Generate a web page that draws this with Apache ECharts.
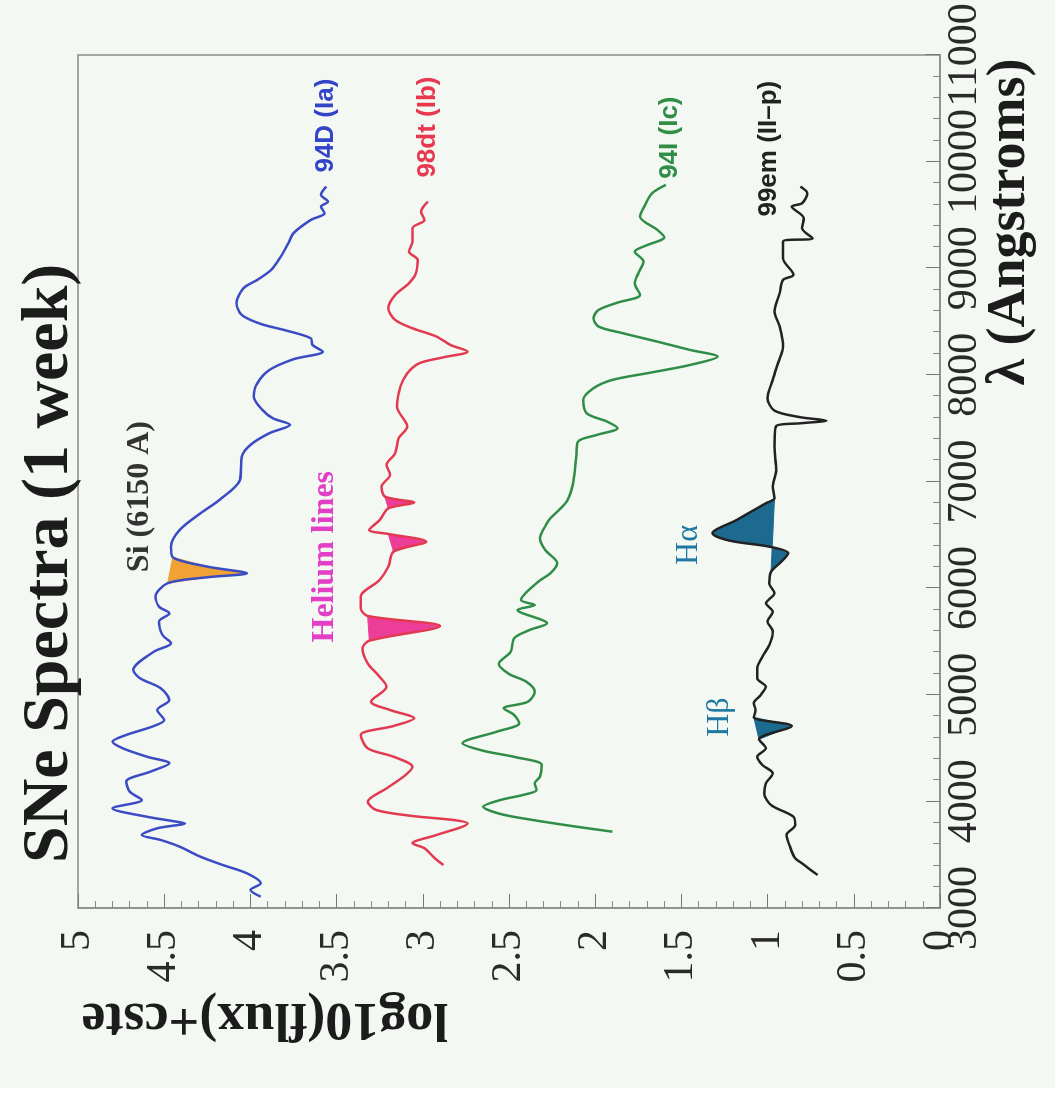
<!DOCTYPE html>
<html>
<head>
<meta charset="utf-8">
<title>SNe Spectra (1 week)</title>
<script src="https://cdn.jsdelivr.net/npm/echarts@6/dist/echarts.min.js"></script>
<style>
  html, body { margin: 0; padding: 0; background: #ffffff; }
  /* chart is drawn upright, then turned a quarter turn like the scan */
  #wrap {
    position: absolute; left: 0; top: 0;
    width: 1100px; height: 1055px;
    transform-origin: 0 0;
    transform: translateY(1100px) rotate(-90deg);
    background: linear-gradient(to right, #ffffff 12px, #f4f8f3 12px);
  }
  #chart { width: 1100px; height: 1055px; }
</style>
</head>
<body>
<div id="wrap"><div id="chart"></div></div>
<script>
// wavelength axis (Angstroms) and flux axis
var waveAxis = [3000, 11000, 1000];
var fluxAxis = [0, 5, 0.5];

// 94D (Ia)
var waveIa = [3106,3169,3232,3325,3403,3481,3575,3638,3685,3748,3794,3810,3856,3935,4013,4091,4185,4279,4357,4419,
  4498,4560,4623,4701,4763,4857,4951,5061,5155,5232,5404,5483,5561,5686,5764,5826,5920,6046,6102,6139,
  6202,6290,6389,6546,6702,6827,7015,7233,7343,7453,7531,7593,7671,7796,7922,8046,8147,8218,8281,8344,
  8415,8478,8562,8672,8813,8891,8984,9094,9235,9329,9453,9516,9578,9625,9688,9766];
var fluxIa = [3.94,4.00,3.94,4.02,4.16,4.29,4.41,4.52,4.63,4.54,4.38,4.43,4.60,4.80,4.63,4.70,4.72,4.58,4.47,4.60,
  4.74,4.80,4.72,4.57,4.50,4.54,4.47,4.52,4.64,4.68,4.56,4.46,4.51,4.53,4.47,4.53,4.55,4.48,4.25,4.02,
  4.25,4.45,4.46,4.41,4.29,4.18,4.06,4.05,4.00,3.89,3.77,3.87,3.93,3.98,3.96,3.89,3.75,3.58,3.64,3.65,
  3.79,3.94,4.05,4.08,4.04,3.96,3.88,3.83,3.78,3.75,3.65,3.57,3.59,3.55,3.59,3.56];

// 98dt (Ib)
var waveIb = [3403,3466,3560,3607,3685,3794,3825,3863,3919,3997,4122,4247,4325,4419,4498,4623,4707,4779,4857,4935,
  5076,5186,5295,5436,5507,5645,5739,5811,5920,6077,6202,6342,6436,6508,6546,6639,6749,6802,6858,6952,
  7062,7155,7265,7406,7515,7702,7890,8015,8109,8165,8218,8281,8359,8437,8515,8625,8750,8860,8953,9078,
  9156,9250,9376,9453,9531,9625];
var fluxIb = [2.88,2.93,2.99,3.06,2.92,2.74,2.82,3.06,3.27,3.32,3.21,3.10,3.06,3.17,3.32,3.36,3.17,3.05,3.19,3.30,
  3.21,3.26,3.32,3.35,3.31,2.90,3.32,3.36,3.36,3.25,3.20,3.17,2.98,3.20,3.31,3.25,3.20,3.05,3.22,3.24,
  3.19,3.21,3.16,3.14,3.09,3.15,3.13,3.09,3.02,2.88,2.74,2.84,2.92,3.06,3.16,3.20,3.16,3.08,3.04,3.03,
  3.08,3.06,3.06,2.99,3.01,2.97];

// 94I (Ic)
var waveIc = [3716,3763,3825,3882,3950,4013,4060,4107,4170,4232,4341,4414,4475,4545,4654,4733,4810,4873,4935,5029,
  5123,5195,5289,5404,5530,5608,5670,5795,5842,5889,6061,6139,6233,6358,6468,6608,6655,6749,6827,6968,
  7077,7233,7374,7437,7500,7561,7640,7765,7875,7953,8021,8093,8171,8234,8312,8391,8453,8531,8609,8678,
  8750,8860,8953,9062,9156,9210,9291,9360,9485,9594,9704,9782];
var fluxIc = [1.90,2.11,2.36,2.55,2.65,2.55,2.42,2.34,2.35,2.32,2.31,2.46,2.65,2.77,2.57,2.44,2.47,2.53,2.39,2.35,
  2.40,2.50,2.56,2.49,2.47,2.38,2.28,2.45,2.35,2.43,2.33,2.26,2.22,2.29,2.32,2.28,2.26,2.20,2.16,2.13,
  2.12,2.11,2.10,1.99,1.87,1.93,2.05,2.07,2.01,1.90,1.68,1.45,1.29,1.45,1.64,1.84,1.98,2.01,1.98,1.87,
  1.74,1.77,1.75,1.72,1.77,1.71,1.60,1.64,1.74,1.71,1.67,1.59];

// 99em (II-p)
var waveIIp = [3310,3356,3419,3466,3575,3685,3779,3856,3966,4076,4169,4263,4341,4419,4498,4582,4707,4789,4857,4920,
  4998,5076,5154,5248,5357,5467,5592,5686,5779,5858,5952,6046,6155,6233,6327,6389,6445,6515,6639,6796,
  6843,6952,7108,7327,7521,7546,7571,7603,7665,7781,7953,8109,8265,8453,8593,8766,8891,8938,9094,9250,
  9282,9376,9469,9578,9610,9704,9766];
var fluxIIp = [0.71,0.75,0.80,0.84,0.87,0.89,0.84,0.85,0.98,1.02,1.01,0.97,1.03,1.06,1.01,1.05,0.86,1.08,1.07,1.08,
  1.04,1.01,1.06,1.06,1.03,0.99,0.97,1.00,0.97,1.01,0.96,0.99,0.98,0.93,0.88,0.99,1.22,1.32,1.18,1.01,
  0.96,0.97,0.95,0.96,0.95,0.81,0.66,0.81,0.96,1.00,0.97,0.94,0.91,0.93,0.96,0.93,0.91,0.85,0.91,0.91,
  0.74,0.80,0.79,0.86,0.80,0.77,0.81];

// shaded line features: wavelength ranges
var siRange = [[6046, 6290]];
var heRanges = [[5507, 5739], [6342, 6508], [6749, 6858]];
var hRanges = [[4582, 4789], [6155, 6843]];

var serif = '"Liberation Serif", "Times New Roman", serif';
var sans = '"Liberation Sans", Arial, sans-serif';

function pairs(w, f) {
  var out = [];
  for (var i = 0; i < w.length; i++) out.push([w[i], f[i]]);
  return out;
}

function lineSeries(name, w, f, color) {
  return {
    name: name, type: 'line', data: pairs(w, f),
    showSymbol: false, z: 3, smooth: 0.3,
    lineStyle: { color: color, width: 2.5 },
    itemStyle: { color: color }
  };
}

function fillSeries(name, w, f, ranges, color) {
  return {
    name: name, type: 'custom', z: 2, data: ranges,
    renderItem: function (params, api) {
      var lo = api.value(0), hi = api.value(1);
      var pts = [];
      for (var i = 0; i < w.length; i++) {
        if (w[i] >= lo && w[i] <= hi) pts.push(api.coord([w[i], f[i]]));
      }
      return {
        type: 'polygon', shape: { points: pts },
        style: { fill: color, stroke: color, lineWidth: 1 }
      };
    }
  };
}

var chart = echarts.init(document.getElementById('chart'));

var option = {
  animation: false,
  backgroundColor: 'transparent',
  title: {
    text: 'SNe Spectra (1 week)',
    left: 232, top: 12,
    textStyle: { fontFamily: serif, fontSize: 66, fontWeight: 'bold', color: '#1c1c1c' }
  },
  grid: {
    left: 192, right: 55, top: 78, bottom: 115,
    show: true, borderColor: '#8c8c8c', borderWidth: 1.5
  },
  xAxis: {
    type: 'value', min: waveAxis[0], max: waveAxis[1], interval: waveAxis[2],
    axisLine: { show: true, lineStyle: { color: '#8c8c8c', width: 1.5 } },
    axisTick: { inside: true, length: 14, lineStyle: { color: '#777' } },
    minorTick: { show: true, splitNumber: 5, length: 7, lineStyle: { color: '#888' } },
    splitLine: { show: false },
    axisLabel: {
      margin: 4, fontFamily: serif, fontSize: 42, color: '#2a2a2a',
      formatter: function (v) { return String(v); }
    }
  },
  yAxis: {
    type: 'value', min: fluxAxis[0], max: fluxAxis[1], interval: fluxAxis[2],
    axisLine: { show: true, lineStyle: { color: '#8c8c8c', width: 1.5 } },
    axisTick: { inside: true, length: 14, lineStyle: { color: '#777' } },
    minorTick: { show: true, splitNumber: 5, length: 7, lineStyle: { color: '#888' } },
    splitLine: { show: false },
    axisLabel: { margin: 22, fontFamily: serif, fontSize: 42, color: '#2a2a2a' }
  },
  series: [
    fillSeries('Si', waveIa, fluxIa, siRange, '#f0a234'),
    fillSeries('He', waveIb, fluxIb, heRanges, '#ec3d98'),
    fillSeries('H', waveIIp, fluxIIp, hRanges, '#1c6a90'),
    lineSeries('94D (Ia)', waveIa, fluxIa, '#3a4bc4'),
    lineSeries('98dt (Ib)', waveIb, fluxIb, '#e23a50'),
    lineSeries('94I (Ic)', waveIc, fluxIc, '#2f8d47'),
    lineSeries('99em (II-p)', waveIIp, fluxIIp, '#222222')
  ]
};
chart.setOption(option);

// texts placed from data coordinates
function at(w, f) { return chart.convertToPixel({ gridIndex: 0 }, [w, f]); }
function txt(p, text, font, color, align) {
  return {
    type: 'text', x: p[0], y: p[1], z: 10,
    style: {
      text: text, font: font, fill: color,
      align: align || 'left', verticalAlign: 'middle',
      textAlign: align || 'left', textVerticalAlign: 'middle'
    }
  };
}
function endOf(w, f, dx, dy) {
  var p = at(w[w.length - 1], f[f.length - 1]);
  return [p[0] + dx, p[1] + dy];
}

var graphics = [
  txt(endOf(waveIa, fluxIa, 14, 0), '94D (Ia)', 'bold 26px ' + sans, '#3344c8'),
  txt(endOf(waveIb, fluxIb, 24, 0), '98dt (Ib)', 'bold 26px ' + sans, '#e8384f'),
  txt(endOf(waveIc, fluxIc, 6, 4), '94I (Ic)', 'bold 26px ' + sans, '#2f8d47'),
  txt(endOf(waveIIp, fluxIIp, -30, -32), '99em (II\u2013p)', 'bold 26px ' + sans, '#222222'),
  txt(at(6150, 4.64), 'Si (6150 A)', 'bold 32px ' + serif, '#333333'),
  txt(at(5490, 3.57), 'Helium lines', 'bold 32px ' + serif, '#e23fc6'),
  txt(at(6405, 1.46), 'H\u03b1', '32px ' + serif, '#1f78a2', 'center'),
  txt(at(4790, 1.28), 'H\u03b2', '32px ' + serif, '#1f78a2', 'center'),
  // axis names
  txt([878, 1010], '\u03bb (Angstroms)', 'bold 54px ' + serif, '#1c1c1c', 'center'),
  {
    type: 'text', x: 82, y: 265, rotation: Math.PI / 2, z: 10,
    style: {
      text: 'log10(flux)+cste', font: 'bold 54px ' + serif, fill: '#1c1c1c',
      align: 'center', verticalAlign: 'middle', textAlign: 'center', textVerticalAlign: 'middle'
    }
  }
];
chart.setOption({ graphic: graphics });
</script>
</body>
</html>
